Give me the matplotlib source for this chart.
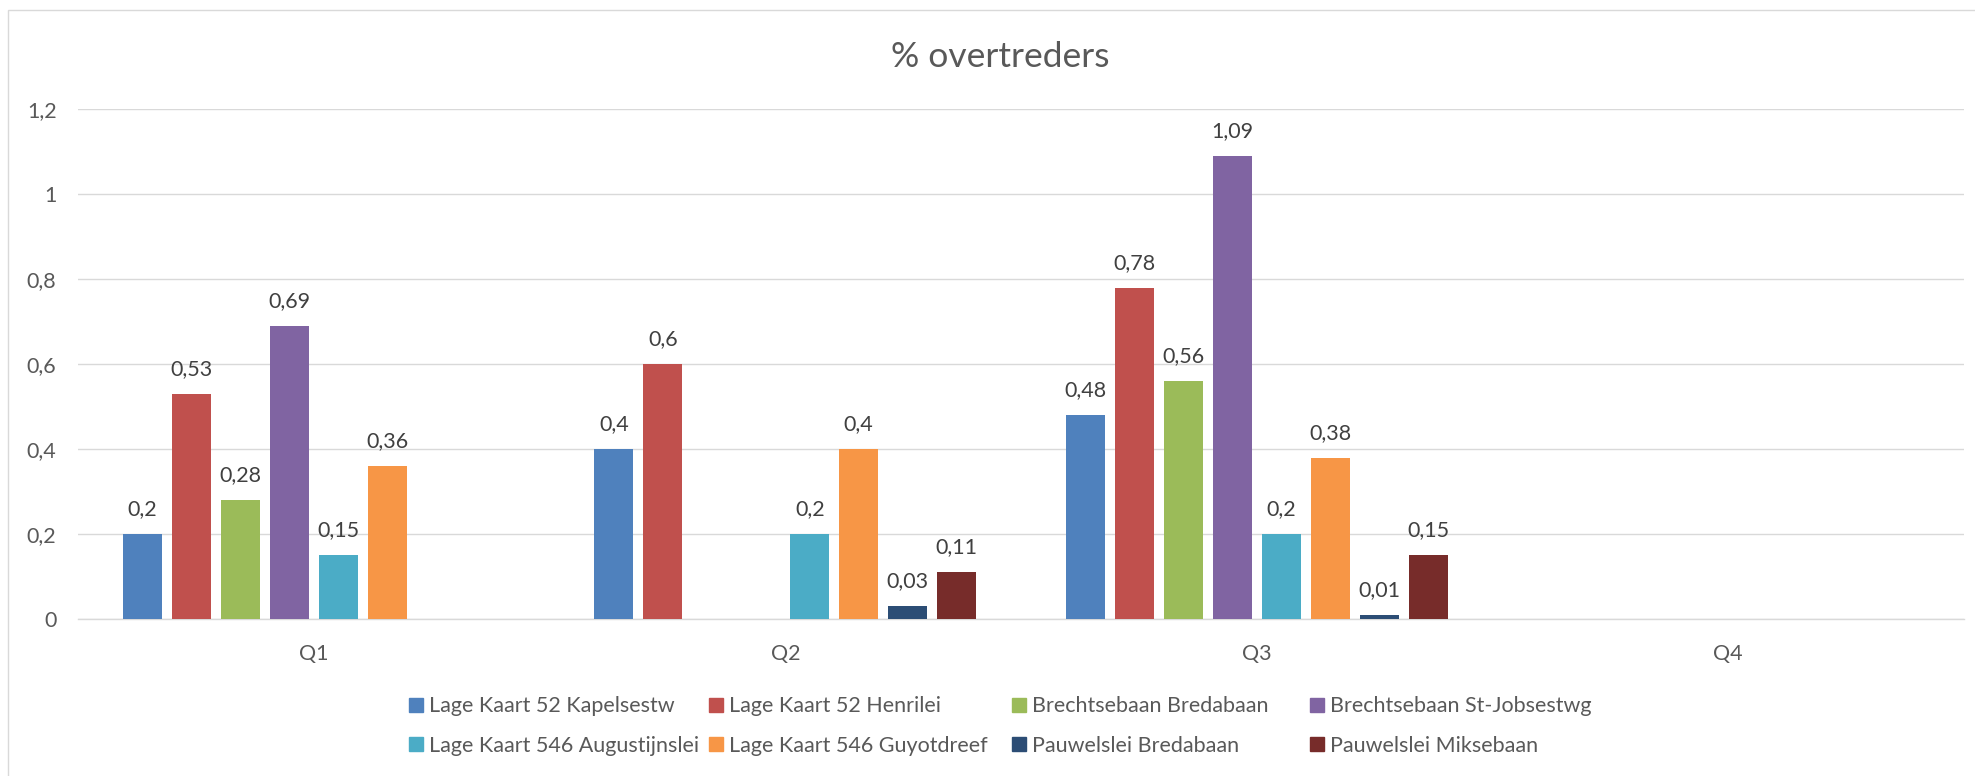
import numpy as np
import matplotlib; matplotlib.use("Agg")
import matplotlib.pyplot as plt
from matplotlib.patches import Patch, Rectangle

plt.rcParams["font.family"] = ["Lato", "DejaVu Sans"]

# data (nan = no bar)
nan = np.nan
QUARTERS = ["Q1", "Q2", "Q3", "Q4"]
SERIES = ["Lage Kaart 52 Kapelsestw", "Lage Kaart 52 Henrilei", "Brechtsebaan Bredabaan",
          "Brechtsebaan St-Jobsestwg", "Lage Kaart 546 Augustijnslei", "Lage Kaart 546 Guyotdreef",
          "Pauwelslei Bredabaan", "Pauwelslei Miksebaan"]
kapelsestw    = [0.20, 0.40, 0.48, nan]
henrilei      = [0.53, 0.60, 0.78, nan]
brecht_breda  = [0.28, nan, 0.56, nan]
brecht_stjobs = [0.69, nan, 1.09, nan]
augustijnslei = [0.15, 0.20, 0.20, nan]
guyotdreef    = [0.36, 0.40, 0.38, nan]
pauw_breda    = [nan, 0.03, 0.01, nan]
pauw_mikse    = [nan, 0.11, 0.15, nan]
VALUES = [kapelsestw, henrilei, brecht_breda, brecht_stjobs,
          augustijnslei, guyotdreef, pauw_breda, pauw_mikse]
YTICKS = [0, 0.2, 0.4, 0.6, 0.8, 1.0, 1.2]

COLORS = ["#4F81BD", "#C0504D", "#9BBB59", "#8064A2", "#4BACC6", "#F79646", "#2C4D75", "#772C2A"]
TXT = "#595959"; GRID = "#d9d9d9"
W, H = 1975, 776
fmt = lambda v: f"{v:g}".replace(".", ",")

fig = plt.figure(figsize=(W/100, H/100), dpi=100)
# light chart-area border (left/top visible, rest cropped)
fig.patches.append(Rectangle((8/W, -0.1), 1.2, 1.1 - 10/H, transform=fig.transFigure,
                             fill=False, ec=GRID, lw=1.0))
ax = fig.add_axes([78/W, 157/H, (1964-78)/W, (619-109)/H])

x = np.arange(len(QUARTERS))
pitch, bw = 0.1039, 0.0821
for i, (name, vals, col) in enumerate(zip(SERIES, VALUES, COLORS)):
    xs = x + (i - 3.5) * pitch
    ax.bar(xs, vals, width=bw, color=col, zorder=3)
    for xi, v in zip(xs, vals):
        if not np.isnan(v):
            ax.annotate(fmt(v), (xi, v), xytext=(0, 13.5), textcoords="offset points",
                        ha="center", va="baseline", fontsize=15.5, color="#404040")

ax.set_xlim(-0.5, len(QUARTERS) - 0.5)
ax.set_ylim(0, 1.2)
ax.set_yticks(YTICKS)
ax.set_yticklabels([fmt(v) for v in YTICKS])
ax.set_xticks(x)
ax.set_xticklabels(QUARTERS)
ax.tick_params(axis="y", length=0, pad=15.5, labelsize=15.5, labelcolor=TXT)
ax.tick_params(axis="x", length=0, pad=18, labelsize=15.5, labelcolor=TXT)
ax.yaxis.grid(True, color=GRID, lw=1.0, zorder=0)
ax.set_axisbelow(True)
for s in ("left", "right", "top"):
    ax.spines[s].set_visible(False)
ax.spines["bottom"].set_color(GRID); ax.spines["bottom"].set_linewidth(1.0)

fig.text(1000/W, 1 - 67/H, "% overtreders", ha="center", va="baseline", fontsize=25.5, color=TXT)

# legend: 4 equal columns, two rows (row-major order like Excel)
col_x = [409, 709, 1012, 1310]
for c in range(4):
    hs = [Patch(color=COLORS[c]), Patch(color=COLORS[c + 4])]
    lg = fig.legend(hs, [SERIES[c], SERIES[c + 4]], loc="center left",
                    bbox_to_anchor=(col_x[c]/W, 1 - 726/H), frameon=False, fontsize=15.5,
                    labelcolor=TXT, handlelength=0.65, handleheight=0.62, handletextpad=0.3,
                    labelspacing=0.9, borderpad=0, borderaxespad=0)

fig.savefig("out.png", dpi=100)
